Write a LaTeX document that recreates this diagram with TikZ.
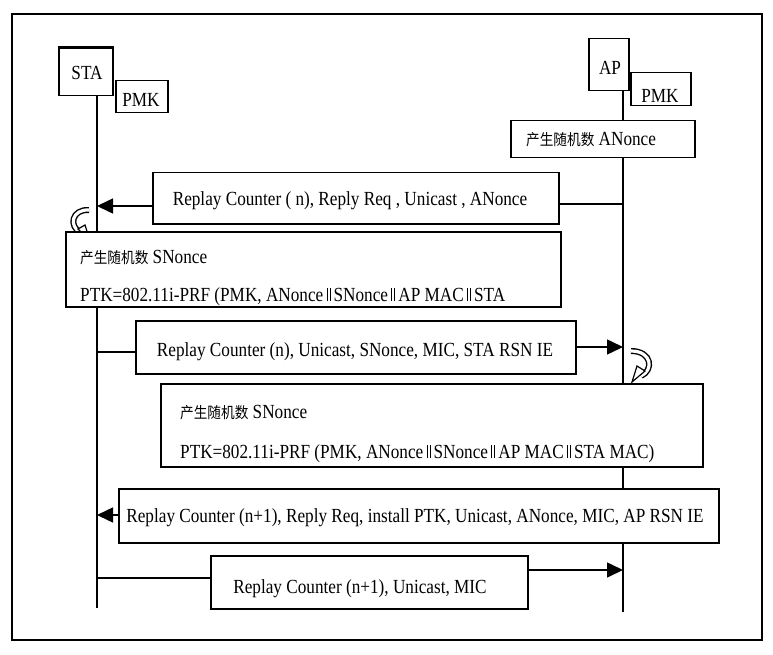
\documentclass[tikz,border=0pt]{standalone}
\usepackage{fontspec}
\setmainfont[FakeStretch=0.86]{Liberation Serif}
\newfontfamily\cjk[FakeStretch=0.88]{Noto Sans CJK SC}
\usetikzlibrary{arrows.meta}
\tikzset{
  box/.style={draw, line width=1.5pt, fill=white, inner sep=0pt, anchor=north west},
  life/.style={line width=1.5pt},
  msg/.style={line width=1.5pt, -{Triangle[length=16pt,width=15pt]}},
  txt/.style={font=\fontsize{20}{22}\selectfont, inner sep=0pt},
  curl/.style={double=white, double distance=3.2pt, line width=1.4pt},
}
\newcommand{\dbar}{\,\rule[0pt]{0.8pt}{13pt}\hspace{2pt}\rule[0pt]{0.8pt}{13pt}\,}
\newcommand{\zh}[1]{{\cjk\fontsize{15.5}{18}\selectfont #1}}
\begin{document}
\begin{tikzpicture}[x=1pt,y=-1pt]
\useasboundingbox (0,0) rectangle (773,655);
\draw[line width=1.5pt] (12,14) rectangle (762,640);

% lifelines
\coordinate (staTop) at (97,95);
\coordinate (staBot) at (97,608);
\coordinate (apTop) at (623,90);
\coordinate (apBot) at (623,612);
\draw[life] (staTop) -- (staBot);
\draw[life] (apTop) -- (apBot);

% heads
\node[box, minimum width=54, minimum height=47] (sta) at (58,48) {};
\draw[line width=3pt] (sta.north west) -- (sta.north east);
\node[txt] at (87,73) {STA};
\node[box, minimum width=52, minimum height=32] (stapmk) at (115,80) {};
\node[txt] at (141,100) {PMK};
\node[box, minimum width=40, minimum height=52] (ap) at (588,38) {};
\node[txt] at (610,68) {AP};
\node[box, minimum width=60, minimum height=33] (appmk) at (630,72) {};
\node[txt] at (660,96) {PMK};

\node[box, minimum width=184, minimum height=37] (anonce) at (510,120) {};
\node[txt, anchor=base west] at (526,146) {\zh{产生随机数} ANonce};

% message 1
\node[box, minimum width=406, minimum height=51] (m1) at (152,172) {};
\node[txt] at (350,201) {Replay Counter ( n), Reply Req , Unicast , ANonce};
\draw[life] (apTop |- 0,204) -- (m1.east |- 0,204);
\draw[msg] (m1.west |- 0,206) -- (staTop |- 0,206);
\draw[curl] (89,210) .. controls (72,209) and (68,226) .. (81,233);
\draw[fill=white, line width=1.2pt] (78,229) -- (90,241) -- (85,225) -- cycle;

% STA computation
\node[box, minimum width=495, minimum height=75] (c1) at (65,231) {};
\node[txt, anchor=base west] at (80,263) {\zh{产生随机数} SNonce};
\node[txt, anchor=base west] at (80,301) {PTK=802.11i-PRF (PMK, ANonce\dbar SNonce\dbar AP MAC\dbar STA};

% message 2
\node[box, minimum width=440, minimum height=53] (m2) at (135,320) {};
\node[txt] at (355,352) {Replay Counter (n), Unicast, SNonce, MIC, STA RSN IE};
\draw[life] (staTop |- 0,352) -- (m2.west |- 0,352);
\draw[msg] (m2.east |- 0,347) -- (apTop |- 0,347);
\draw[curl] (631,351) .. controls (652,351) and (654,370) .. (641,376);
\draw[fill=white, line width=1.2pt] (645,371) -- (632,382) -- (637,366) -- cycle;

% AP computation
\node[box, minimum width=542, minimum height=83] (c2) at (160,383) {};
\node[txt, anchor=base west] at (180,418) {\zh{产生随机数} SNonce};
\node[txt, anchor=base west] at (180,458) {PTK=802.11i-PRF (PMK, ANonce\dbar SNonce\dbar AP MAC\dbar STA MAC)};

% message 3
\node[box, minimum width=600, minimum height=54] (m3) at (118,488) {};
\node[txt] at (415,518) {Replay Counter (n+1), Reply Req, install PTK, Unicast, ANonce, MIC, AP RSN IE};
\draw[msg] (m3.west |- 0,515) -- (staTop |- 0,515);

% message 4
\node[box, minimum width=317, minimum height=53] (m4) at (210,555) {};
\node[txt] at (360,589) {Replay Counter (n+1), Unicast, MIC};
\draw[life] (staTop |- 0,578) -- (m4.west |- 0,578);
\draw[msg] (m4.east |- 0,570) -- (apTop |- 0,570);
\end{tikzpicture}
\end{document}
